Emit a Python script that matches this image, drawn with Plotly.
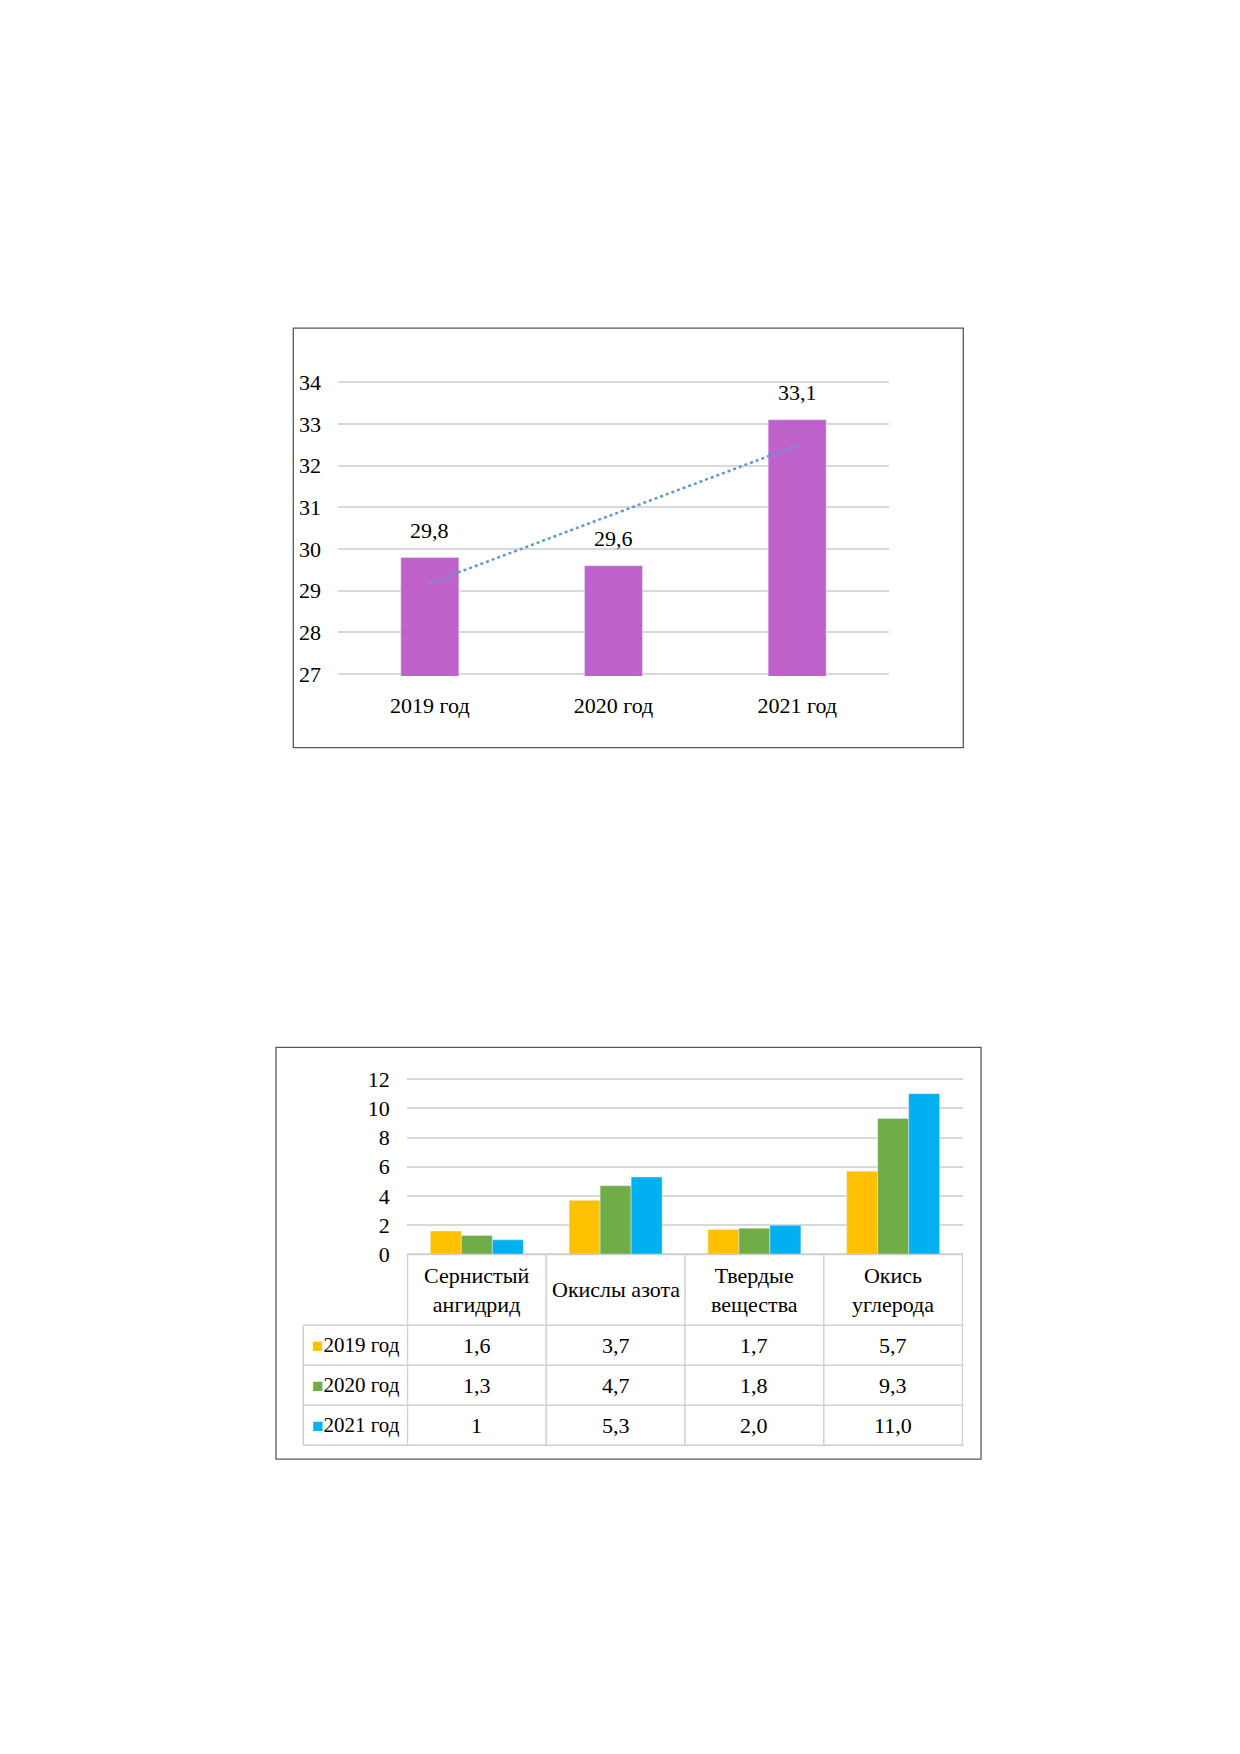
import numpy as np
import plotly.graph_objects as go

# ── DATA ──────────────────────────────────────────────────────────────────────
years = ["2019 год", "2020 год", "2021 год"]
totals = [29.8, 29.6, 33.1]

substances = ["Сернистый<br>ангидрид", "Окислы азота", "Твердые<br>вещества", "Окись<br>углерода"]
v2019 = [1.6, 3.7, 1.7, 5.7]
v2020 = [1.3, 4.7, 1.8, 9.3]
v2021 = [1.0, 5.3, 2.0, 11.0]
# table text exactly as printed in the source
t2019 = ["1,6", "3,7", "1,7", "5,7"]
t2020 = ["1,3", "4,7", "1,8", "9,3"]
t2021 = ["1", "5,3", "2,0", "11,0"]

# ── STYLE ─────────────────────────────────────────────────────────────────────
OFF = 8  # page body margin
W, H = 1240 - 2 * OFF, 1754 - 2 * OFF
SY = 1 / 0.987  # vertical correction seen in the snapshot (about page middle)
FONT = "Liberation Serif, Times New Roman, serif"
PURPLE = "#BE61CA"
COLORS = ["#FFC000", "#70AD47", "#00B0F0"]
GRID = "#D9D9D9"
TBL = "#D0D0D0"
FS = 22


def px_x(x):
    return (x - OFF) / W


def px_y(y):
    yy = 877 + (y - 877) * SY
    return 1 - (yy - OFF) / H


fig = go.Figure()

# ── CHART 1: totals by year ───────────────────────────────────────────────────
fig.add_trace(go.Bar(
    x=years, y=totals, marker_color=PURPLE, xaxis="x", yaxis="y",
    width=0.316, showlegend=False, hoverinfo="x+y",
))

# linear trendline (as in the spreadsheet)
idx = np.arange(len(totals))
k, b = np.polyfit(idx, totals, 1)
fig.add_trace(go.Scatter(
    x=years, y=k * idx + b, mode="lines", xaxis="x", yaxis="y",
    line=dict(color="#5B9BD5", width=2.5, dash="dot"), showlegend=False,
))

for yr, v in zip(years, totals):
    fig.add_annotation(
        x=yr, y=v, xref="x", yref="y", text=f"{v:.1f}".replace(".", ","),
        showarrow=False, yanchor="middle", yshift=27,
        font=dict(family=FONT, size=FS, color="black"),
    )

# ── CHART 2: emissions by substance ───────────────────────────────────────────
cats = [s.replace("<br>", " ") for s in substances]
for name, vals, col in zip(years, [v2019, v2020, v2021], COLORS):
    fig.add_trace(go.Bar(
        x=cats, y=vals, name=name, marker_color=col, xaxis="x2", yaxis="y2",
        showlegend=False,
    ))

# data table under the chart (columns follow the category axis)
HEAD_TOP, HEAD_BOT = 1254.3, 1325
ROW_H = 40
LEG_L = 303.3
row_mid = [HEAD_BOT + ROW_H * (i + 0.5) for i in range(3)]
tbl_bot = HEAD_BOT + ROW_H * 3
line = dict(color=TBL, width=1.5)

for cat, head in zip(cats, substances):
    fig.add_annotation(
        x=cat, xref="x2", y=px_y((HEAD_TOP + HEAD_BOT) / 2), yref="paper",
        text=head, showarrow=False, xanchor="center", yanchor="middle",
        font=dict(family=FONT, size=FS, color="black"),
    )
for ri, (yr, col, texts) in enumerate(zip(years, COLORS, [t2019, t2020, t2021])):
    for cat, t in zip(cats, texts):
        fig.add_annotation(
            x=cat, xref="x2", y=px_y(row_mid[ri]), yref="paper",
            text=t, showarrow=False, xanchor="center", yanchor="middle",
            font=dict(family=FONT, size=FS, color="black"),
        )
    fig.add_annotation(
        x=px_x(356), xref="paper", y=px_y(row_mid[ri]), yref="paper",
        text=f"<span style='color:{col};font-size:19px'>■</span>{yr}",
        showarrow=False, xanchor="center", yanchor="middle",
        font=dict(family=FONT, size=FS - 1, color="black"),
    )

# vertical table lines on category boundaries
for i in range(len(cats) + 1):
    fig.add_shape(type="line", xref="x2", yref="paper",
                  x0=i - 0.5, x1=i - 0.5, y0=px_y(HEAD_TOP), y1=px_y(tbl_bot), line=line)
fig.add_shape(type="line", xref="paper", yref="paper",
              x0=px_x(LEG_L), x1=px_x(LEG_L), y0=px_y(HEAD_BOT), y1=px_y(tbl_bot), line=line)
# horizontal table lines
fig.add_shape(type="line", xref="x2", yref="paper",
              x0=-0.5, x1=len(cats) - 0.5, y0=px_y(HEAD_TOP), y1=px_y(HEAD_TOP), line=line)
for j in range(4):
    yy = HEAD_BOT + ROW_H * j
    fig.add_shape(type="line", xref="paper", yref="paper",
                  x0=px_x(LEG_L), x1=px_x(963.3), y0=px_y(yy), y1=px_y(yy), line=line)

# ── LAYOUT ────────────────────────────────────────────────────────────────────
# axis ranges padded a little so plotly keeps the edge gridlines
PAD1, PAD2 = 0.04, 0.12
u1 = (674.3 - 382.3) / 7
u2 = (1254.3 - 1079.0) / 12
axis_font = dict(family=FONT, size=FS, color="black")
fig.update_layout(
    width=W, height=H,
    margin=dict(l=0, r=0, t=0, b=0),
    paper_bgcolor="white", plot_bgcolor="white",
    bargap=0.33, bargroupgap=0,
    barmode="group",
    font=dict(family=FONT, size=FS, color="black"),
    xaxis=dict(
        domain=[px_x(338), px_x(889)], anchor="y", showgrid=False, showline=False,
        tickfont=axis_font, ticks="", ticklabelstandoff=14,
    ),
    yaxis=dict(
        domain=[px_y(674.3 + PAD1 * u1), px_y(382.3 - PAD1 * u1)], anchor="x",
        range=[27 - PAD1, 34 + PAD1], dtick=1,
        showgrid=True, gridcolor=GRID, gridwidth=1.5, zeroline=False, showline=False,
        tickfont=axis_font, ticks="", ticklabelstandoff=16,
    ),
    xaxis2=dict(
        domain=[px_x(406.7), px_x(963.3)], anchor="y2", showgrid=False,
        showline=False, showticklabels=False, ticks="",
    ),
    yaxis2=dict(
        domain=[px_y(1254.3 + PAD2 * u2), px_y(1079.0 - PAD2 * u2)], anchor="x2",
        range=[-PAD2, 12 + PAD2], dtick=2,
        showgrid=True, gridcolor=GRID, gridwidth=1.5, zeroline=False, showline=False,
        tickfont=axis_font, ticks="", ticklabelstandoff=16,
    ),
)

# chart frames
fig.add_shape(type="rect", xref="paper", yref="paper",
              x0=px_x(293.3), x1=px_x(963.3), y0=px_y(747.7), y1=px_y(328.3),
              line=dict(color="#595959", width=1.3))
fig.add_shape(type="rect", xref="paper", yref="paper",
              x0=px_x(276), x1=px_x(981), y0=px_y(1459), y1=px_y(1047.3),
              line=dict(color="#595959", width=1.3))

fig.write_html("out.html")
